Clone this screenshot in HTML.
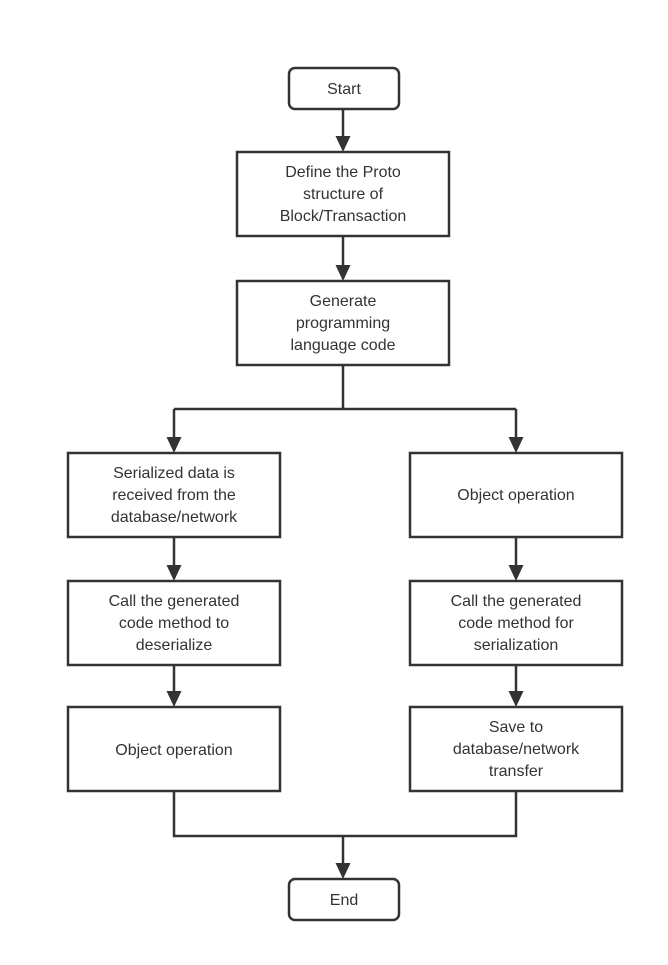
<!DOCTYPE html>
<html><head><meta charset="utf-8"><style>
html,body{margin:0;padding:0;background:#fff;}
svg{display:block;}
text{font-family:"Liberation Sans","DejaVu Sans",sans-serif;font-size:16px;fill:#333;text-anchor:middle;}
</style></head><body>
<svg width="668" height="965" viewBox="0 0 668 965" xmlns="http://www.w3.org/2000/svg">
<g fill="#fff" stroke="#333" stroke-width="2.5">
<rect x="289" y="68" width="110" height="41" rx="6"/>
<rect x="237" y="152" width="212" height="84"/>
<rect x="237" y="281" width="212" height="84"/>
<rect x="68" y="453" width="212" height="84"/>
<rect x="68" y="581" width="212" height="84"/>
<rect x="68" y="707" width="212" height="84"/>
<rect x="410" y="453" width="212" height="84"/>
<rect x="410" y="581" width="212" height="84"/>
<rect x="410" y="707" width="212" height="84"/>
<rect x="289" y="879" width="110" height="41" rx="6"/>
</g>
<g fill="none" stroke="#333" stroke-width="2.5">
<path d="M343 109V140"/>
<path d="M343 236V269"/>
<path d="M343 365V409M174 409H516M174 409V441M516 409V441"/>
<path d="M174 537V569M516 537V569"/>
<path d="M174 665V695M516 665V695"/>
<path d="M174 791V836H516V791M343 836V867"/>
</g>
<g fill="#333">
<path d="M335.5 136H350.5L343 152Z"/>
<path d="M335.5 265H350.5L343 281Z"/>
<path d="M166.5 437H181.5L174 453Z"/>
<path d="M508.5 437H523.5L516 453Z"/>
<path d="M166.5 565H181.5L174 581Z"/>
<path d="M508.5 565H523.5L516 581Z"/>
<path d="M166.5 691H181.5L174 707Z"/>
<path d="M508.5 691H523.5L516 707Z"/>
<path d="M335.5 863H350.5L343 879Z"/>
</g>
<text x="344" y="94">Start</text>
<text x="343" y="177">Define the Proto</text>
<text x="343" y="199">structure of</text>
<text x="343" y="221">Block/Transaction</text>
<text x="343" y="306">Generate</text>
<text x="343" y="328">programming</text>
<text x="343" y="350">language code</text>
<text x="174" y="478">Serialized data is</text>
<text x="174" y="500">received from the</text>
<text x="174" y="522">database/network</text>
<text x="516" y="500">Object operation</text>
<text x="174" y="606">Call the generated</text>
<text x="174" y="628">code method to</text>
<text x="174" y="650">deserialize</text>
<text x="516" y="606">Call the generated</text>
<text x="516" y="628">code method for</text>
<text x="516" y="650">serialization</text>
<text x="174" y="755">Object operation</text>
<text x="516" y="732">Save to</text>
<text x="516" y="754">database/network</text>
<text x="516" y="776">transfer</text>
<text x="344" y="905">End</text>
</svg>
</body></html>
